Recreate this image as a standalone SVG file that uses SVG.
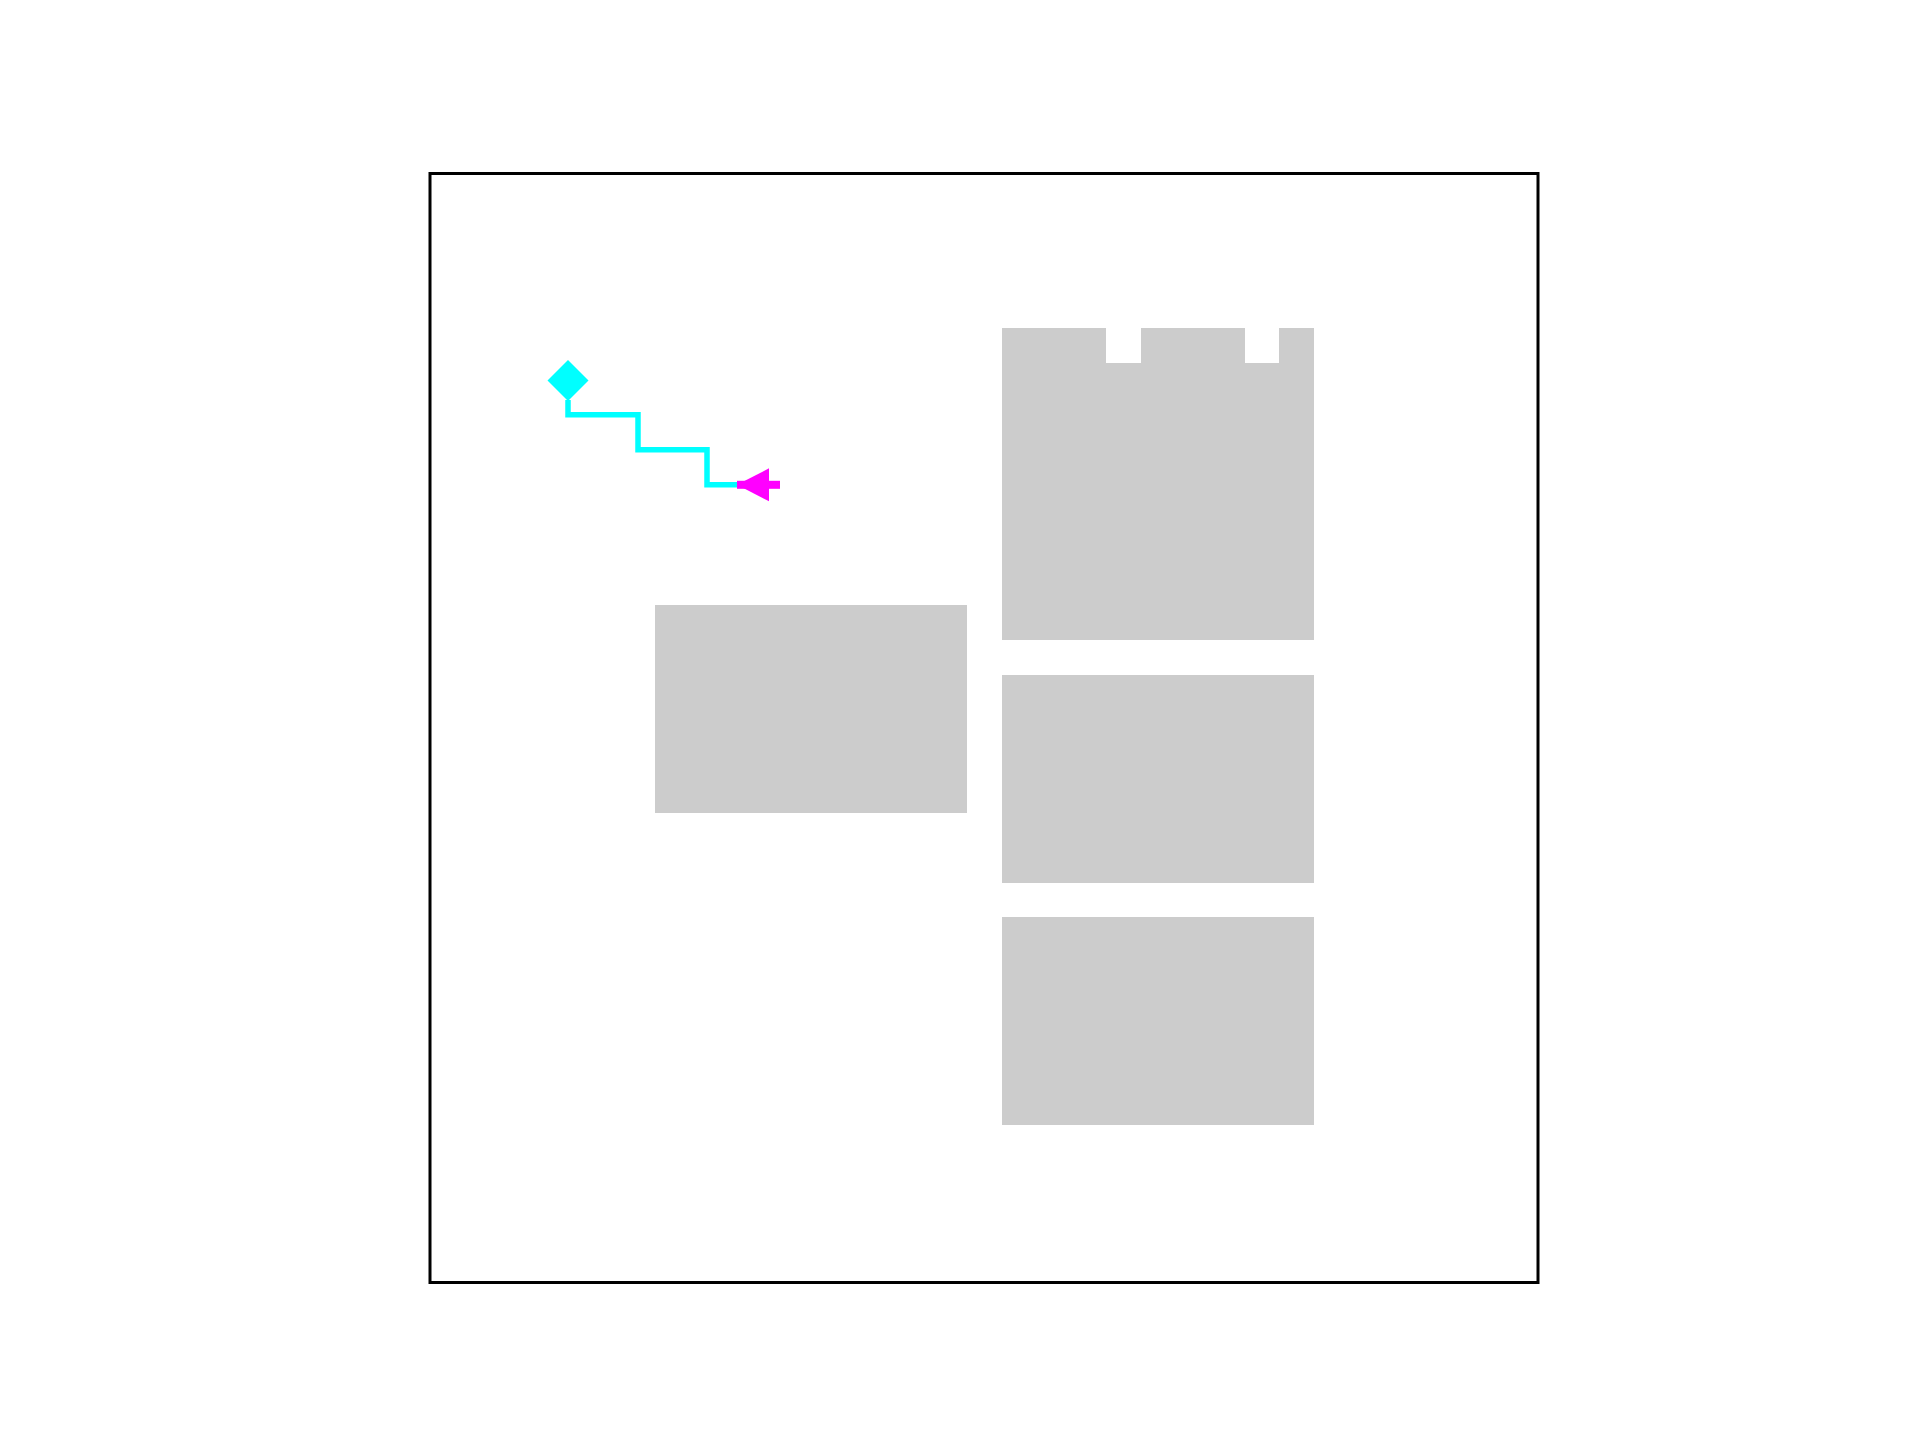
<svg xmlns="http://www.w3.org/2000/svg" width="1920" height="1440" viewBox="0 0 1920 1440">
<style>
.blk{fill:#cccccc;stroke:none}
.frame{fill:none;stroke:#000000;stroke-width:3}
.conn{fill:none;stroke:#00ffff;stroke-width:5.5}
</style>
<defs>
<marker id="startDiamond" markerUnits="userSpaceOnUse" orient="auto" markerWidth="50" markerHeight="50" viewBox="-25 -25 50 50" refX="0" refY="0" overflow="visible">
<polygon points="-41,0 -20.5,-20.5 0,0 -20.5,20.5" fill="#00ffff" transform="rotate(180) translate(0,0)"/>
</marker>
<marker id="endArrow" markerUnits="userSpaceOnUse" orient="auto" markerWidth="60" markerHeight="40" viewBox="0 -20 60 40" refX="0" refY="0" overflow="visible">
<polygon points="0,0 32,-16.5 32,16.5" fill="#ff00ff"/>
<rect x="0" y="-4" width="43" height="8" fill="#ff00ff"/>
</marker>
</defs>
<rect width="1920" height="1440" fill="#ffffff"/>
<rect class="frame" x="430" y="173.5" width="1108" height="1109"/>
<g id="node-top">
<path class="blk" d="M1002,328 H1106 V363 H1141 V328 H1245 V363 H1279 V328 H1314 V640 H1002 Z"/>
</g>
<g id="node-left">
<rect class="blk" x="655" y="605" width="312" height="208"/>
</g>
<g id="node-middle">
<rect class="blk" x="1002" y="675" width="312" height="208"/>
</g>
<g id="node-bottom">
<rect class="blk" x="1002" y="917" width="312" height="208"/>
</g>
<g id="connectors">
<polygon points="568,360 588.5,380.5 568,401 547.5,380.5" fill="#00ffff"/>
<path class="conn" d="M568,400 V414.8 H638 V449.8 H707 V484.8 H737" marker-end="url(#endArrow)"/>
</g>
</svg>
